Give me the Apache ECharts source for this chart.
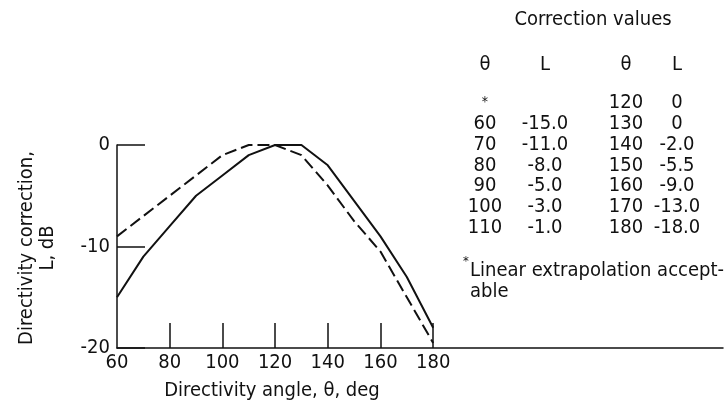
<!DOCTYPE html>
<html>
<head>
<meta charset="utf-8">
<script src="https://cdn.jsdelivr.net/npm/echarts@6/dist/echarts.min.js"></script>
<style>
  html, body { margin: 0; padding: 0; background: #fff; }
  #chart { width: 725px; height: 405px; }
</style>
</head>
<body>
<div id="chart"></div>
<script>
// curve data, directivity angle (deg) vs correction L (dB)
var angles = [60, 70, 80, 90, 100, 110, 120, 130, 140, 150, 160, 170, 180];
var solidL = [-15, -11, -8, -5, -3, -1, 0, 0, -2, -5.5, -9, -13, -18];
var dashedL = [-9, -7, -5, -3, -1, 0, 0, -1, -4, -7.5, -10.5, -15, -19.5];

// axis ticks
var xLabels = [60, 80, 100, 120, 140, 160, 180];
var xTicks = [80, 100, 120, 140, 160, 180];

// correction values table
var tableHead = ["θ", "L", "θ", "L"];
var thetaA = ["*", "60", "70", "80", "90", "100", "110"];
var lA = ["", "-15.0", "-11.0", "-8.0", "-5.0", "-3.0", "-1.0"];
var thetaB = ["120", "130", "140", "150", "160", "170", "180"];
var lB = ["0", "0", "-2.0", "-5.5", "-9.0", "-13.0", "-18.0"];

var FONT = '"DejaVu Sans Condensed", "DejaVu Sans", sans-serif';

var chart = echarts.init(document.getElementById("chart"));

function pairs(ys) {
  return angles.map(function (a, i) { return [a, ys[i]]; });
}

// table text
var colX = [485, 545, 626, 677];
var graphics = [];
function txt(x, y, s, size, extra) {
  var o = {
    type: "text",
    x: x,
    y: y,
    style: {
      text: s,
      fill: "#111",
      font: size + "px " + FONT,
      lineHeight: 21,
      align: "center",
      verticalAlign: "middle"
    }
  };
  if (extra) Object.assign(o, extra);
  graphics.push(o);
}
txt(593, 20, "Correction values", 20);
tableHead.forEach(function (h, i) { txt(colX[i], 65, h, 20); });
for (var i = 0; i < thetaA.length; i++) {
  var y = 103 + i * 20.8;
  if (i === 0) {
    txt(colX[0], y - 1, thetaA[i], 14);
  } else {
    txt(colX[0], y, thetaA[i], 20);
  }
  txt(colX[1], y, lA[i], 20);
  txt(colX[2], y, thetaB[i], 20);
  txt(colX[3], y, lB[i], 20);
}
graphics.push({
  type: "text", x: 463, y: 268,
  style: { text: "*", fill: "#111", font: "13px " + FONT, align: "left", verticalAlign: "bottom" }
});
graphics.push({
  type: "text", x: 470, y: 281,
  style: { text: "Linear extrapolation accept-\nable", fill: "#111", font: "20px " + FONT,
    lineHeight: 21, align: "left", verticalAlign: "middle" }
});
// axis titles
txt(272, 391, "Directivity angle, θ, deg", 20);
txt(37, 248, "Directivity correction,\nL, dB", 20, { rotation: Math.PI / 2 });

chart.setOption({
  animation: false,
  backgroundColor: "#fff",
  grid: { left: 117, top: 145, width: 606, height: 203 },
  xAxis: {
    type: "value",
    min: 60,
    max: 290,
    axisLine: { onZero: false, lineStyle: { color: "#111", width: 1.5 } },
    axisTick: {
      show: true, inside: true, length: 25,
      customValues: xTicks,
      lineStyle: { color: "#111", width: 1.5 }
    },
    axisLabel: {
      customValues: xLabels,
      color: "#111", fontSize: 20, fontFamily: FONT, margin: 5
    },
    splitLine: { show: false }
  },
  yAxis: {
    type: "value",
    min: -20,
    max: 0,
    interval: 10,
    axisLine: { show: true, onZero: false, lineStyle: { color: "#111", width: 1.5 } },
    axisTick: { show: true, inside: true, length: 28, lineStyle: { color: "#111", width: 1.5 } },
    axisLabel: { color: "#111", fontSize: 20, fontFamily: FONT, margin: 7 },
    splitLine: { show: false }
  },
  series: [
    {
      name: "solid",
      type: "line",
      data: pairs(solidL),
      symbol: "none",
      lineStyle: { color: "#111", width: 2 }
    },
    {
      name: "dashed",
      type: "line",
      data: pairs(dashedL),
      symbol: "none",
      lineStyle: { color: "#111", width: 2, type: [12, 5] }
    }
  ],
  graphic: graphics
});
</script>
</body>
</html>
